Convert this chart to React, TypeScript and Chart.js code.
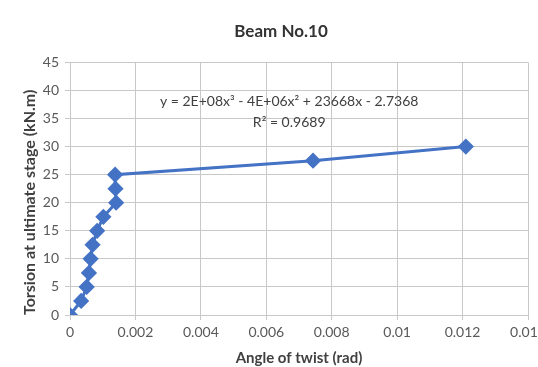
import React, { useEffect, useRef } from "react";
import { Chart, registerables } from "chart.js";

Chart.register(...registerables);

const twistAngles = [0, 0.00034, 0.00051, 0.00058, 0.00063, 0.00069, 0.00083, 0.00102, 0.00141, 0.00139, 0.00138, 0.00743, 0.0121];
const torsionValues = [0, 2.5, 5, 7.5, 10, 12.5, 15, 17.5, 20, 22.5, 25, 27.5, 30];
const equationLines = ["y = 2E+08x\u00B3 - 4E+06x\u00B2 + 23668x - 2.7368", "R\u00B2 = 0.9689"];
const equationAnchor = { x: 0.0067, y: [38.0, 34.3] };

const FONT = "Lato, 'Open Sans', sans-serif";

const equationPlugin = {
  id: "equation",
  afterDatasetsDraw(chart: any) {
    const { ctx, scales } = chart;
    ctx.save();
    ctx.font = `14px ${FONT}`;
    ctx.fillStyle = "#404040";
    ctx.textAlign = "center";
    ctx.textBaseline = "middle";
    const px = scales.x.getPixelForValue(equationAnchor.x);
    equationLines.forEach((t, i) => {
      ctx.fillText(t, px, scales.y.getPixelForValue(equationAnchor.y[i]));
    });
    ctx.restore();
  },
};

export default function App() {
  const ref = useRef<HTMLCanvasElement>(null);
  useEffect(() => {
    if (!ref.current) return;
    const grid = { color: "#c8c8c8", lineWidth: 1, tickLength: 5 };
    const chart = new Chart(ref.current, {
      type: "scatter",
      data: {
        datasets: [
          {
            data: twistAngles.map((x, i) => ({ x, y: torsionValues[i] })),
            showLine: true,
            borderColor: "#4472C4",
            backgroundColor: "#4472C4",
            borderWidth: 3,
            pointStyle: "rectRot",
            pointRadius: 6,
            pointHoverRadius: 6,
          },
        ],
      },
      options: {
        animation: false,
        responsive: false,
        maintainAspectRatio: false,
        layout: { padding: { left: 0, right: 0, top: 0, bottom: 0 } },
        plugins: {
          legend: { display: false },
          tooltip: { enabled: false },
          title: {
            display: true,
            text: "Beam No.10",
            color: "#333333",
            font: { family: FONT, size: 17, weight: "bold" },
            padding: { top: 21, bottom: 21 },
          },
        },
        scales: {
          x: {
            type: "linear",
            min: 0,
            max: 0.014,
            grid,
            border: { color: "#c8c8c8" },
            ticks: {
              stepSize: 0.002,
              color: "#595959",
              font: { family: FONT, size: 14 },
              padding: 4,
              maxRotation: 0,
              callback: (v: any) => String(Number(Number(v).toFixed(4))),
            },
            title: {
              display: true,
              text: "Angle of twist (rad)",
              color: "#404040",
              font: { family: FONT, size: 15, weight: "bold" },
              padding: { top: 2, bottom: 0 },
            },
            afterFit: (s: any) => {
              s.height = 52;
              s.paddingRight = 20;
            },
          },
          y: {
            type: "linear",
            min: 0,
            max: 45,
            grid,
            border: { color: "#c8c8c8" },
            ticks: {
              stepSize: 5,
              color: "#595959",
              font: { family: FONT, size: 14 },
              padding: 6,
            },
            title: {
              display: true,
              align: "start",
              text: "Torsion at ultimate stage (kN.m)",
              color: "#404040",
              font: { family: FONT, size: 16, weight: "bold" },
              padding: { top: 6, bottom: 0 },
            },
            afterFit: (s: any) => {
              s.width = 56;
            },
          },
        },
      },
      plugins: [equationPlugin],
    });
    return () => chart.destroy();
  }, []);
  return (
    <div style={{ position: "fixed", left: 0, top: 0, width: 538, height: 367, overflow: "hidden", background: "#fff" }}>
      <canvas ref={ref} width={534} height={367} style={{ display: "block", marginLeft: 14 }} />
    </div>
  );
}
